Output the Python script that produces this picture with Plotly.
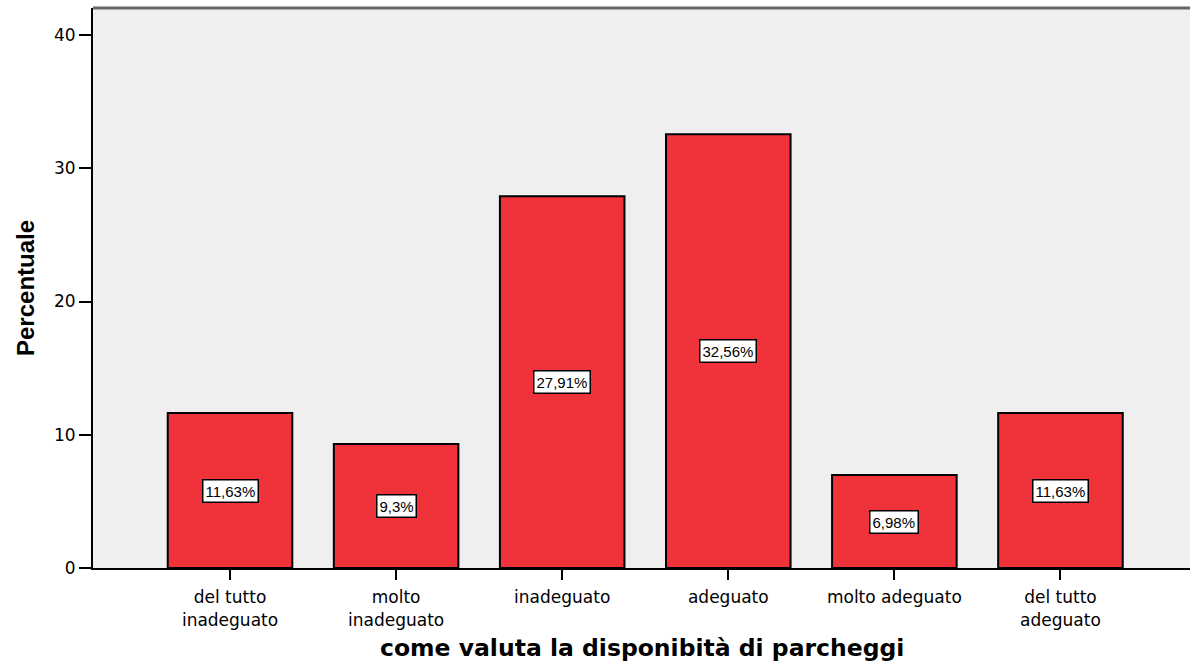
import plotly.graph_objects as go

categorie = ["del tutto<br>inadeguato", "molto<br>inadeguato", "inadeguato",
             "adeguato", "molto adeguato", "del tutto<br>adeguato"]
percentuali = [11.63, 9.3, 27.91, 32.56, 6.98, 11.63]
etichette = [(str(v).replace(".", ",") + "%") for v in percentuali]
tick_y = [0, 10, 20, 30, 40]

x_pos = list(range(len(categorie)))

fig = go.Figure()

fig.add_trace(go.Bar(
    x=x_pos,
    y=percentuali,
    width=0.75,
    marker=dict(color="#f0333a", line=dict(color="black", width=2)),
    hoverinfo="y",
))

# etichette con riquadro bianco a metà barra
for xi, v, lab in zip(x_pos, percentuali, etichette):
    fig.add_annotation(
        x=xi, y=v / 2, text=lab, showarrow=False,
        font=dict(family="Liberation Sans, Arial", size=15, color="black"),
        bgcolor="white", bordercolor="black", borderwidth=1.5, borderpad=2,
    )

fig.add_shape(type="line", xref="paper", yref="paper", x0=0, x1=1, y0=1, y1=1,
              line=dict(color="#666666", width=3))

fig.add_annotation(
    xref="paper", yref="paper", x=0.5, y=0, yshift=-80,
    xanchor="center", yanchor="middle",
    text="<b>come valuta la disponibità di parcheggi</b>", showarrow=False,
    font=dict(family="DejaVu Sans", size=23.5, color="black"),
)
fig.add_annotation(
    xref="paper", yref="paper", x=0, y=0.5, xshift=-68, textangle=-90,
    xanchor="center", yanchor="middle",
    text="<b>Percentuale</b>", showarrow=False,
    font=dict(family="Liberation Sans Narrow, Liberation Sans, Arial", size=24, color="black"),
)

fig.update_layout(
    width=1190, height=664,
    margin=dict(l=93, r=0, t=8, b=96),
    paper_bgcolor="white",
    plot_bgcolor="#efefef",
    showlegend=False,
    font=dict(family="DejaVu Sans", size=17, color="black"),
    xaxis=dict(
        range=[-0.825, 5.78],
        tickmode="array", tickvals=x_pos, ticktext=categorie,
        showline=True, linecolor="black", linewidth=2,
        ticks="outside", ticklen=10, tickwidth=2, tickcolor="black",
        ticklabelstandoff=3,
        showgrid=False, zeroline=False,
    ),
    yaxis=dict(
        range=[0, 42.03],
        tickmode="array", tickvals=tick_y,
        showline=True, linecolor="black", linewidth=2,
        ticks="outside", ticklen=12, tickwidth=2, tickcolor="black",
        showgrid=False, zeroline=False,
    ),
)

fig.write_html("out.html", config={"displayModeBar": False},
               post_script="document.body.style.margin='0';")
